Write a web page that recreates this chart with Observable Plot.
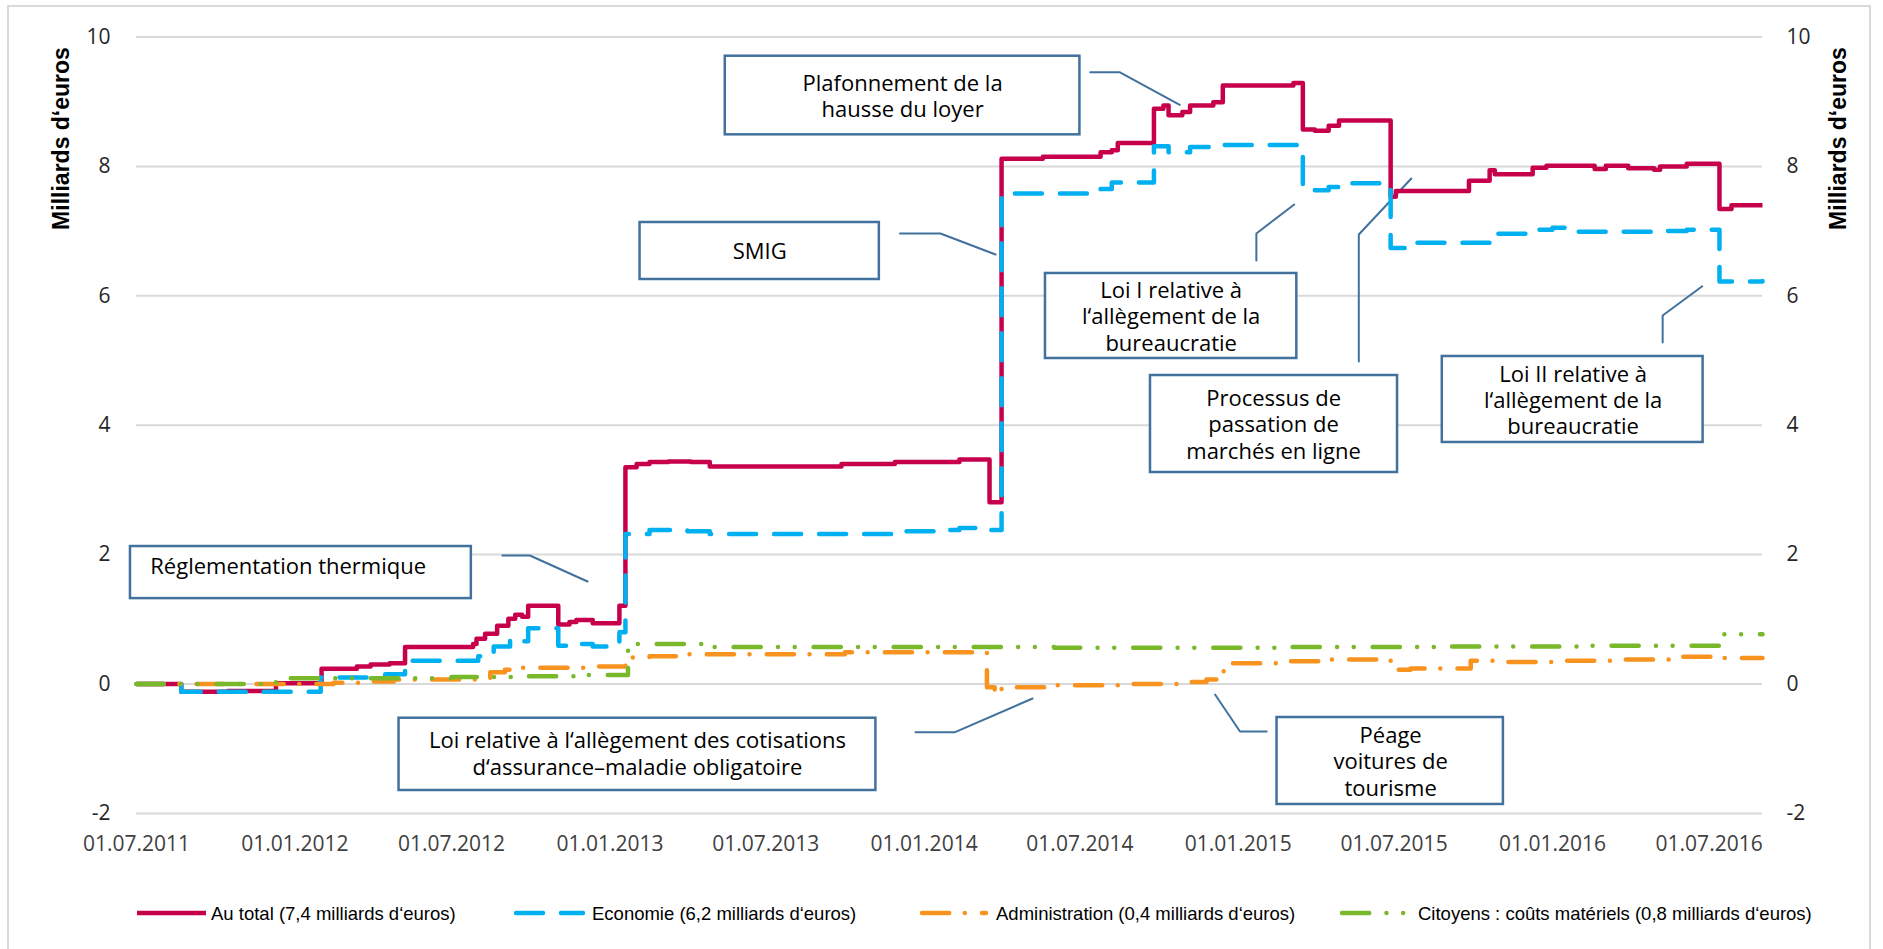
<!DOCTYPE html>
<html>
<head>
<meta charset="utf-8">
<script src="https://cdn.jsdelivr.net/npm/d3@7"></script>
<script src="https://cdn.jsdelivr.net/npm/@observablehq/plot@0.6"></script>
<style>
  html, body { margin: 0; padding: 0; background: #fff; }
  #wrap { position: relative; width: 1883px; height: 949px; overflow: hidden; }
  #frame { position: absolute; left: 7px; top: 5px; width: 1864px; height: 990px; border: 2px solid #d9d9d9; box-sizing: border-box; }
  #chart { position: absolute; left: 0; top: 0; }
  #legend { position: absolute; left: 0; top: 880px; width: 1883px; height: 69px; font-family: "Liberation Sans", Arial, sans-serif; font-size: 18.5px; color: #000; }
  .item { position: absolute; top: 0; height: 69px; }
  .item svg { position: absolute; top: 0; left: 0; overflow: visible; }
  .item span { position: absolute; top: 23px; white-space: nowrap; }
</style>
</head>
<body>
<div id="wrap">
  <div id="frame"></div>
  <div id="chart"></div>
  <div id="legend"></div>
</div>
<script>
// ---------- data ----------
const seriesNames = [
  "Au total (7,4 milliards d‘euros)",
  "Economie (6,2 milliards d‘euros)",
  "Administration (0,4 milliards d‘euros)",
  "Citoyens : coûts matériels (0,8 milliards d‘euros)"
];
const seriesColors = ["#c7004c", "#00b0f0", "#f7931e", "#78b82a"];
const seriesDash = [null, "27,18", "27.2,15.6,0,17.2", "27.2,17.25,0,16.7,0,18.9"];

const auTotal = [
  ["2011-07-01", 0], ["2011-08-22", -0.12], ["2011-10-15", -0.11], ["2011-12-10", 0.01],
  ["2012-02-01", 0.235], ["2012-03-13", 0.27], ["2012-03-29", 0.30], ["2012-04-20", 0.32],
  ["2012-05-08", 0.57], ["2012-07-26", 0.62], ["2012-07-30", 0.70], ["2012-08-09", 0.775],
  ["2012-08-23", 0.90], ["2012-09-05", 1.01], ["2012-09-13", 1.07], ["2012-09-21", 1.04],
  ["2012-09-28", 1.21], ["2012-11-02", 0.92], ["2012-11-15", 0.96], ["2012-11-23", 0.99],
  ["2012-12-12", 0.94], ["2013-01-12", 1.21], ["2013-01-19", 3.35], ["2013-02-01", 3.40],
  ["2013-02-16", 3.43], ["2013-03-10", 3.44], ["2013-04-05", 3.43], ["2013-04-27", 3.36],
  ["2013-09-27", 3.40], ["2013-11-28", 3.43], ["2014-02-11", 3.47], ["2014-03-18", 2.81],
  ["2014-04-01", 8.12], ["2014-05-19", 8.15], ["2014-07-25", 8.22], ["2014-08-07", 8.25],
  ["2014-08-14", 8.36], ["2014-09-25", 8.89], ["2014-10-06", 8.94], ["2014-10-12", 8.79],
  ["2014-10-28", 8.84], ["2014-11-06", 8.94], ["2014-12-03", 8.99], ["2014-12-14", 9.25],
  ["2015-03-06", 9.29], ["2015-03-17", 8.57], ["2015-03-31", 8.55], ["2015-04-16", 8.63],
  ["2015-04-28", 8.71], ["2015-06-27", 7.53], ["2015-07-03", 7.62], ["2015-09-26", 7.78],
  ["2015-10-20", 7.94], ["2015-10-26", 7.88], ["2015-12-09", 7.98], ["2015-12-25", 8.01],
  ["2016-02-19", 7.96], ["2016-03-03", 8.01], ["2016-03-29", 7.97], ["2016-04-28", 7.95],
  ["2016-05-05", 8.00], ["2016-06-05", 8.04], ["2016-07-13", 7.34], ["2016-07-27", 7.40],
  ["2016-09-01", 7.40]
];
const economie = [
  ["2011-07-01", 0], ["2011-08-22", -0.12], ["2012-01-31", 0.10], ["2012-04-15", 0.15],
  ["2012-05-08", 0.36], ["2012-08-01", 0.43], ["2012-08-19", 0.58], ["2012-09-07", 0.69],
  ["2012-09-21", 0.66], ["2012-09-28", 0.86], ["2012-11-02", 0.59], ["2012-11-23", 0.62],
  ["2012-12-12", 0.58], ["2013-01-12", 0.80], ["2013-01-19", 2.32], ["2013-02-16", 2.38],
  ["2013-04-01", 2.36], ["2013-04-27", 2.32], ["2013-11-28", 2.36], ["2014-01-15", 2.38],
  ["2014-02-11", 2.41], ["2014-03-18", 2.38], ["2014-04-01", 7.58], ["2014-07-25", 7.65],
  ["2014-08-07", 7.75], ["2014-09-25", 8.31], ["2014-10-12", 8.22], ["2014-11-06", 8.30],
  ["2014-12-14", 8.33], ["2015-03-17", 7.65], ["2015-03-31", 7.63], ["2015-04-16", 7.68],
  ["2015-04-28", 7.74], ["2015-06-27", 6.74], ["2015-07-15", 6.82], ["2015-10-30", 6.96],
  ["2015-12-09", 7.02], ["2016-01-01", 7.05], ["2016-01-20", 6.99], ["2016-05-05", 7.00],
  ["2016-06-05", 7.02], ["2016-07-13", 6.22], ["2016-09-01", 6.23]
];
const administration = [
  ["2011-07-01", 0], ["2012-02-15", 0.02], ["2012-03-20", 0.04], ["2012-04-25", 0.07],
  ["2012-08-15", 0.18], ["2012-09-01", 0.22], ["2012-09-20", 0.25], ["2012-12-01", 0.27],
  ["2013-01-19", 0.41], ["2013-02-16", 0.43], ["2013-04-01", 0.46], ["2013-10-01", 0.49],
  ["2014-03-15", -0.05], ["2014-03-24", -0.15], ["2014-04-01", -0.05], ["2014-06-01", -0.02],
  ["2014-09-01", 0.0], ["2014-11-01", 0.03], ["2014-11-25", 0.07], ["2014-12-15", 0.32],
  ["2015-02-15", 0.35], ["2015-04-15", 0.38], ["2015-06-27", 0.22], ["2015-07-20", 0.24],
  ["2015-09-28", 0.36], ["2015-10-26", 0.34], ["2016-01-01", 0.36], ["2016-03-10", 0.38],
  ["2016-05-15", 0.42], ["2016-07-13", 0.40], ["2016-09-01", 0.40]
];
const citoyens = [
  ["2011-07-01", 0], ["2011-12-10", 0.09], ["2012-07-01", 0.11], ["2012-09-20", 0.12],
  ["2012-11-20", 0.14], ["2013-01-22", 0.62], ["2013-04-27", 0.57], ["2014-06-01", 0.56],
  ["2015-03-01", 0.57], ["2015-09-01", 0.58], ["2016-02-01", 0.59], ["2016-07-15", 0.77],
  ["2016-09-01", 0.77]
];
const seriesData = [auTotal, economie, administration, citoyens];

const xTickLabels = ["01.07.2011","01.01.2012","01.07.2012","01.01.2013","01.07.2013","01.01.2014",
                     "01.07.2014","01.01.2015","01.07.2015","01.01.2016","01.07.2016"];
const yTicks = [-2, 0, 2, 4, 6, 8, 10];
const axisTitle = "Milliards d‘euros";

// annotation boxes (data coordinates)
const noteLabels = [
  "Réglementation thermique",
  "Loi relative à l‘allègement des cotisations\nd‘assurance–maladie obligatoire",
  "SMIG",
  "Plafonnement de la\nhausse du loyer",
  "Loi I relative à\nl‘allègement de la\nbureaucratie",
  "Processus de\npassation de\nmarchés en ligne",
  "Loi II relative à\nl‘allègement de la\nbureaucratie",
  "Péage\nvoitures de\ntourisme"
];
const noteX1 = ["2011-06-24","2012-05-01","2013-02-05","2013-05-15","2014-05-22","2014-09-21","2015-08-26","2015-02-15"];
const noteX2 = ["2012-07-24","2013-11-06","2013-11-10","2014-07-01","2015-03-10","2015-07-05","2016-06-24","2015-11-05"];
const noteY1 = [2.125, -0.529, 7.133, 9.703, 6.345, 4.768, 5.062, -0.518];
const noteY2 = [1.32, -1.646, 6.252, 8.488, 5.031, 3.269, 3.733, -1.862];
const noteTX = ["2011-07-17","2013-02-02","2013-06-24","2013-12-07","2014-10-15","2015-02-11","2016-01-25","2015-06-27"];
const noteTY = [1.83, -1.07, 6.692, 9.097, 5.688, 4.019, 4.397, -1.19];
const noteAlign = ["start","middle","middle","middle","middle","middle","middle","middle"];

// leader lines [note index, date, value]
const leaders = [
  [0,"2012-08-29",1.986],[0,"2012-09-30",1.986],[0,"2012-12-06",1.584],
  [1,"2013-12-22",-0.745],[1,"2014-02-06",-0.745],[1,"2014-05-07",-0.224],
  [2,"2013-12-04",6.963],[2,"2014-01-20",6.963],[2,"2014-03-25",6.638],
  [3,"2014-07-13",9.456],[3,"2014-08-16",9.456],[3,"2014-10-25",8.952],
  [4,"2015-01-22",6.546],[4,"2015-01-22",6.963],[4,"2015-03-07",7.411],
  [5,"2015-05-21",4.985],[5,"2015-05-21",6.947],[5,"2015-07-21",7.813],
  [6,"2016-05-08",5.278],[6,"2016-05-08",5.695],[6,"2016-06-23",6.148],
  [7,"2015-02-03",-0.734],[7,"2015-01-03",-0.734],[7,"2014-12-05",-0.162]
];

// ---------- build ----------
const D = s => new Date(s + "T00:00:00Z");
const parseTick = d3.utcParse("%d.%m.%Y");
const xTicks = xTickLabels.map(parseTick);

const notes = noteLabels.map((label, i) => ({
  label, x1: D(noteX1[i]), x2: D(noteX2[i]), y1: noteY1[i], y2: noteY2[i],
  tx: D(noteTX[i]), ty: noteTY[i], align: noteAlign[i]
}));
const leaderPts = leaders.map(([id, d, v]) => ({id, date: D(d), value: v}));

const lineMarks = seriesData.map((arr, i) => Plot.line(
  arr.map(([d, v]) => ({date: D(d), value: v})),
  {x: "date", y: "value", curve: "step-after", stroke: seriesColors[i], strokeWidth: 4.5,
   strokeDasharray: seriesDash[i] || undefined, strokeLinecap: seriesDash[i] ? "round" : "butt",
   strokeLinejoin: "round"}
));

const boxColor = "#41719c";
const annFont = "'Open Sans', sans-serif";

const chart = Plot.plot({
  width: 1883,
  height: 880,
  marginLeft: 136,
  marginRight: 121,
  marginTop: 36.5,
  marginBottom: 67.1,
  x: {type: "utc", domain: [D("2011-07-01"), D("2016-09-01")]},
  y: {domain: [-2, 10]},
  style: {fontFamily: "'Open Sans', sans-serif", fontSize: "21px", background: "transparent", overflow: "visible"},
  marks: [
    Plot.gridY(yTicks, {stroke: "#d9d9d9", strokeWidth: 2, strokeOpacity: 1}),
    Plot.axisY(yTicks, {anchor: "left", tickSize: 0, tickPadding: 26, label: null, fill: "#262626",
      fontSize: 21, tickFormat: d => String(d)}),
    Plot.axisY(yTicks, {anchor: "right", tickSize: 0, tickPadding: 24, label: null, fill: "#262626",
      fontSize: 21, tickFormat: d => String(d)}),
    Plot.axisX(xTicks, {anchor: "bottom", tickSize: 0, tickPadding: 23, label: null, fill: "#404040",
      fontSize: 21, tickFormat: d3.utcFormat("%d.%m.%Y")}),
    Plot.text([axisTitle], {frameAnchor: "top-left", dx: -74.5, dy: 101.5, rotate: -90,
      fontFamily: "'Liberation Sans', Arial, sans-serif", fontWeight: "bold", fontSize: 23, fill: "#000",
      textAnchor: "middle", lineAnchor: "middle"}),
    Plot.text([axisTitle], {frameAnchor: "top-right", dx: 76.5, dy: 101.5, rotate: -90,
      fontFamily: "'Liberation Sans', Arial, sans-serif", fontWeight: "bold", fontSize: 23, fill: "#000",
      textAnchor: "middle", lineAnchor: "middle"}),
    Plot.line(leaderPts, {x: "date", y: "value", z: "id", stroke: boxColor, strokeWidth: 2}),
    Plot.rect(notes, {x1: "x1", x2: "x2", y1: "y1", y2: "y2", fill: "white", stroke: boxColor, strokeWidth: 2.5}),
    ...lineMarks,
    Plot.text(notes.filter(n => n.align === "start"), {x: "tx", y: "ty", text: "label", textAnchor: "start",
      lineAnchor: "middle", fontFamily: annFont, fontSize: 22, fill: "#000", lineHeight: 1.2}),
    Plot.text(notes.filter(n => n.align === "middle"), {x: "tx", y: "ty", text: "label", textAnchor: "middle",
      lineAnchor: "middle", fontFamily: annFont, fontSize: 22, fill: "#000", lineHeight: 1.2})
  ]
});
document.getElementById("chart").appendChild(chart);

// ---------- legend ----------
const legendLayout = [
  {sw: [137, 206], tx: 211},
  {sw: [514, 585], tx: 592},
  {sw: [920, 988], tx: 996},
  {sw: [1340, 1406], tx: 1418}
];
const legend = document.getElementById("legend");
seriesNames.forEach((name, i) => {
  const L = legendLayout[i];
  const item = document.createElement("div");
  item.className = "item";
  item.style.left = "0px";
  const ns = "http://www.w3.org/2000/svg";
  const svg = document.createElementNS(ns, "svg");
  svg.setAttribute("width", 1883); svg.setAttribute("height", 69);
  const ln = document.createElementNS(ns, "line");
  ln.setAttribute("x1", L.sw[0] + (seriesDash[i] ? 2 : 0)); ln.setAttribute("x2", L.sw[1] - (seriesDash[i] ? 2 : 0));
  ln.setAttribute("y1", 33); ln.setAttribute("y2", 33);
  ln.setAttribute("stroke", seriesColors[i]); ln.setAttribute("stroke-width", 4.5);
  if (seriesDash[i]) { ln.setAttribute("stroke-dasharray", seriesDash[i]); ln.setAttribute("stroke-linecap", "round"); }
  svg.appendChild(ln);
  item.appendChild(svg);
  const sp = document.createElement("span");
  sp.textContent = name;
  sp.style.left = L.tx + "px";
  item.appendChild(sp);
  legend.appendChild(item);
});
</script>
</body>
</html>
